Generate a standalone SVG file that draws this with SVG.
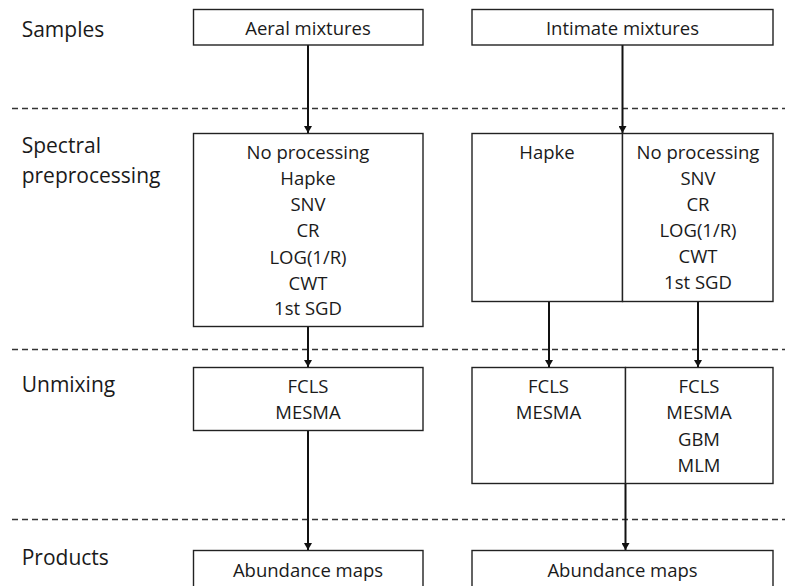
<svg xmlns="http://www.w3.org/2000/svg" width="785" height="586" viewBox="0 0 785 586">
<defs>
<marker id="ah" markerUnits="userSpaceOnUse" markerWidth="8" markerHeight="8" refX="7" refY="4" orient="auto">
<path d="M0,0 L7,4 L0,8 z" fill="#111"/>
</marker>
<style>
.box{fill:#fff;stroke:#222;stroke-width:1.4}
.t{font-family:"Open Sans","Liberation Sans",sans-serif;font-size:18.5px;fill:#1a1a1a;text-anchor:middle}
.lbl{font-family:"Open Sans","Liberation Sans",sans-serif;font-size:21px;fill:#1a1a1a}
.dash{stroke:#333;stroke-width:1.3;stroke-dasharray:6 4;fill:none}
.arr{stroke:#111;stroke-width:2;fill:none;marker-end:url(#ah)}
</style>
</defs>
<rect width="785" height="586" fill="#fff"/>

<g id="separators">
<line class="dash" x1="12" y1="108.5" x2="785" y2="108.5"/>
<line class="dash" x1="12" y1="349.5" x2="785" y2="349.5"/>
<line class="dash" x1="12" y1="519.5" x2="785" y2="519.5"/>
</g>

<g id="labels">
<text class="lbl" x="21.7" y="36.7">Samples</text>
<text class="lbl" x="21.7" y="153">Spectral</text>
<text class="lbl" x="21.7" y="183">preprocessing</text>
<text class="lbl" x="21.7" y="391.7">Unmixing</text>
<text class="lbl" x="21.7" y="565">Products</text>
</g>

<g id="connectors">
<line class="arr" x1="308" y1="45" x2="308" y2="133"/>
<line class="arr" x1="622.5" y1="45" x2="622.5" y2="133"/>
<line class="arr" x1="308" y1="326.5" x2="308" y2="367"/>
<line class="arr" x1="549" y1="301.5" x2="549" y2="367"/>
<line class="arr" x1="698" y1="301.5" x2="698" y2="367"/>
<line class="arr" x1="308" y1="430.5" x2="308" y2="550"/>
<line class="arr" x1="625.5" y1="483.5" x2="625.5" y2="550"/>
</g>

<g id="aeral">
<rect class="box" x="193.5" y="9.5" width="229.5" height="35.5"/>
<text class="t" x="308" y="34.5">Aeral mixtures</text>
</g>
<g id="intimate">
<rect class="box" x="472" y="9.5" width="301" height="35.5"/>
<text class="t" x="622.5" y="34.5">Intimate mixtures</text>
</g>

<g id="preproc-aeral">
<rect class="box" x="193.5" y="133.5" width="229.5" height="193"/>
<text class="t" x="308" y="159">No processing</text>
<text class="t" x="308" y="185">Hapke</text>
<text class="t" x="308" y="211">SNV</text>
<text class="t" x="308" y="237">CR</text>
<text class="t" x="308" y="263.5">LOG(1/R)</text>
<text class="t" x="308" y="289.5">CWT</text>
<text class="t" x="308" y="315">1st SGD</text>
</g>

<g id="preproc-hapke">
<rect class="box" x="472" y="133.5" width="150.5" height="168"/>
<text class="t" x="547" y="159">Hapke</text>
</g>
<g id="preproc-intimate">
<rect class="box" x="622.5" y="133.5" width="150.5" height="168"/>
<text class="t" x="698" y="159">No processing</text>
<text class="t" x="698" y="185">SNV</text>
<text class="t" x="698" y="211">CR</text>
<text class="t" x="698" y="237">LOG(1/R)</text>
<text class="t" x="698" y="263">CWT</text>
<text class="t" x="698" y="289">1st SGD</text>
</g>

<g id="unmix-aeral">
<rect class="box" x="193.5" y="367.5" width="229.5" height="63"/>
<text class="t" x="308" y="392.7">FCLS</text>
<text class="t" x="308" y="419.3">MESMA</text>
</g>
<g id="unmix-hapke">
<rect class="box" x="472" y="367.5" width="153.5" height="116"/>
<text class="t" x="548.5" y="392.7">FCLS</text>
<text class="t" x="548.5" y="419.3">MESMA</text>
</g>
<g id="unmix-intimate">
<rect class="box" x="625.5" y="367.5" width="147.5" height="116"/>
<text class="t" x="699" y="392.7">FCLS</text>
<text class="t" x="699" y="419.3">MESMA</text>
<text class="t" x="699" y="445.7">GBM</text>
<text class="t" x="699" y="471.7">MLM</text>
</g>

<g id="products-aeral">
<rect class="box" x="193.5" y="550.5" width="229.5" height="60"/>
<text class="t" x="308" y="577">Abundance maps</text>
</g>
<g id="products-intimate">
<rect class="box" x="472" y="550.5" width="301" height="60"/>
<text class="t" x="622.5" y="577">Abundance maps</text>
</g>
</svg>
